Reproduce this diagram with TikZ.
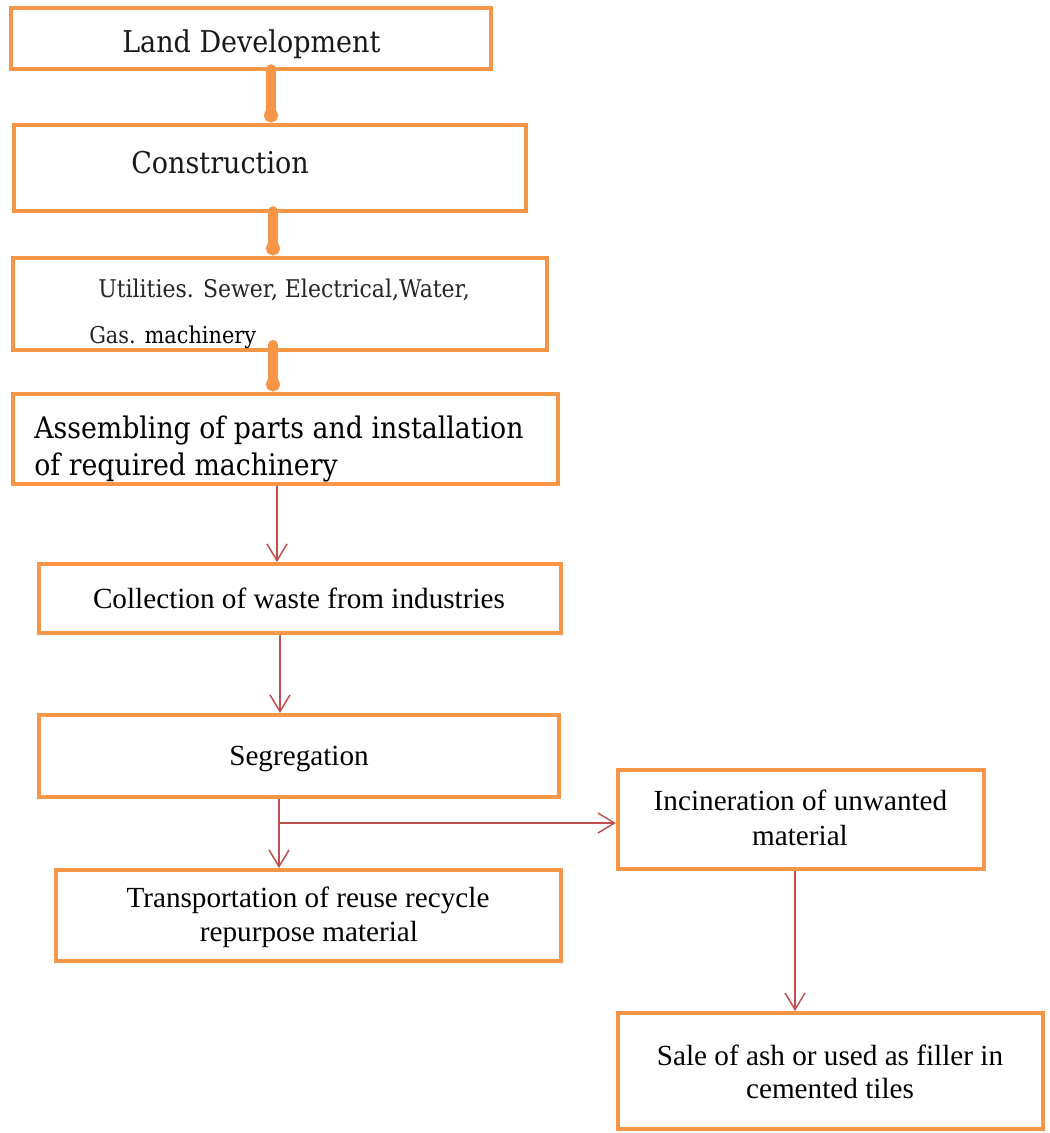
\documentclass[tikz,border=0pt]{standalone}
\usepackage{fontspec}
\setmainfont{Liberation Serif}
\newfontfamily\camb[FakeStretch=0.9]{DejaVu Serif}
\usetikzlibrary{arrows.meta}
\definecolor{boxor}{HTML}{F79646}
\definecolor{arrred}{HTML}{C0504D}
\begin{document}
\begin{tikzpicture}[x=0.75pt,y=-0.75pt,
  topbox/.style={draw=boxor, line width=3pt, inner sep=0pt, outer sep=0pt, fill=white},
  lowbox/.style={draw=boxor, line width=3.6pt, inner sep=0pt, outer sep=0pt, fill=white},
  thickconn/.style={draw=boxor, line width=7.2pt, line cap=round, -{Circle[length=10.5pt,width=10.5pt]}},
  thinarrow/.style={draw=arrred, line width=1.1pt, -{Straight Barb[length=12.5pt,width=15pt]}},
  toplabel/.style={inner sep=0pt, anchor=base west, text=black!90, font=\camb\fontsize{22.5}{27}\selectfont},
  smalllabel/.style={inner sep=0pt, anchor=base west, text=black!85, font=\camb\fontsize{18.3}{22}\selectfont},
  lowlabel/.style={inner sep=0pt, anchor=base, font=\fontsize{21.9}{26}\selectfont}
]
\useasboundingbox (0,0) rectangle (1050,1133);

% boxes
\node[topbox, minimum width=480.5*0.75pt, minimum height=61*0.75pt] (b1) at (250.75,38.5) {};
\node[topbox, minimum width=512*0.75pt, minimum height=86*0.75pt] (b2) at (270,168) {};
\node[topbox, minimum width=534*0.75pt, minimum height=92*0.75pt] (b3) at (280,304) {};
\node[topbox, minimum width=545*0.75pt, minimum height=90*0.75pt] (b4) at (285.5,439) {};
\node[lowbox, minimum width=522*0.75pt, minimum height=69*0.75pt] (b5) at (300,598.5) {};
\node[lowbox, minimum width=520*0.75pt, minimum height=82*0.75pt] (b6) at (299,756) {};
\node[lowbox, minimum width=505*0.75pt, minimum height=91*0.75pt] (b7) at (308.5,915.5) {};
\node[lowbox, minimum width=366*0.75pt, minimum height=99*0.75pt] (b8) at (801,819.5) {};
\node[lowbox, minimum width=425*0.75pt, minimum height=116*0.75pt] (b9) at (830.5,1071) {};

% texts
\node[toplabel] (t1) at (122,52) {Land Development};
\node[toplabel] (t2) at (131,173) {Construction};
\node[smalllabel] (t3a) at (98,297) {Utilities. Sewer, Electrical,Water,};
\node[smalllabel, font=\camb\fontsize{17.4}{21}\selectfont] (t3b) at (89,343) {Gas. \textcolor{black}{machinery}};
\node[toplabel, text=black, font=\camb\fontsize{22.3}{27}\selectfont] (t4a) at (34,438) {Assembling of parts and installation};
\node[toplabel, text=black, font=\camb\fontsize{22.3}{27}\selectfont] (t4b) at (34,475) {of required machinery};
\node[lowlabel] (t5) at (299,608) {Collection of waste from industries};
\node[lowlabel] (t6) at (299,765) {Segregation};
\node[lowlabel] (t7a) at (308,907) {Transportation of reuse recycle};
\node[lowlabel] (t7b) at (309,941) {repurpose material};
\node[lowlabel] (t8a) at (800.5,810) {Incineration of unwanted};
\node[lowlabel] (t8b) at (800,845) {material};
\node[lowlabel] (t9a) at (830,1065) {Sale of ash or used as filler in};
\node[lowlabel] (t9b) at (830,1098) {cemented tiles};

% thick connectors
\draw[thickconn, shorten >=2pt] (b1.south -| 271,0) -- (b2.north -| 271,0);
\draw[thickconn, shorten >=2pt] (b2.south -| 273,0) -- (b3.north -| 273,0);
\draw[thickconn, shorten <=-4pt, shorten >=2pt] (b3.south -| 273,0) -- (b4.north -| 273,0);

% thin arrows
\draw[thinarrow, shorten <=1.5pt, shorten >=1.5pt] (b4.south -| 277,0) -- (b5.north -| 277,0);
\draw[thinarrow, shorten <=1.5pt, shorten >=1.5pt] (b5.south -| 280,0) -- (b6.north -| 280,0);
\draw[thinarrow, shorten <=1.5pt, shorten >=1.5pt] (b6.south -| 279,0) -- (b7.north -| 279,0);
\coordinate (br) at (279,823);
\draw[thinarrow, shorten >=1.5pt] (br) -- (b8.west |- br);
\draw[thinarrow, shorten <=1.5pt, shorten >=1.5pt] (b8.south -| 795,0) -- (b9.north -| 795,0);
\end{tikzpicture}
\end{document}
